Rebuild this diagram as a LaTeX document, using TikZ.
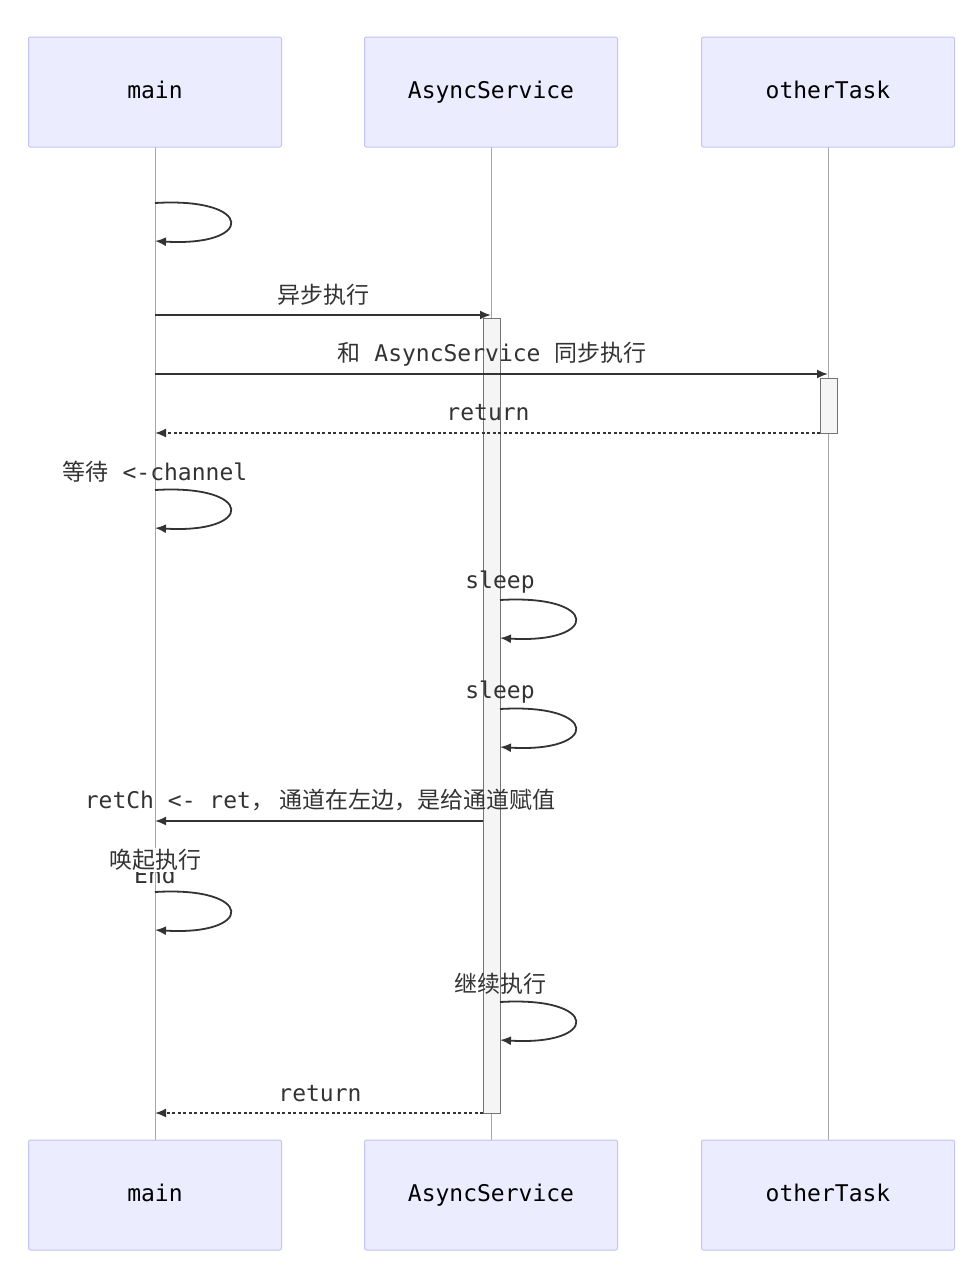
\documentclass[tikz,border=0pt]{standalone}
\usepackage{fontspec}
\setmainfont{DejaVu Sans Mono}
\newfontfamily\cjk{Noto Sans CJK SC}
\usetikzlibrary{arrows.meta}
\definecolor{actfill}{HTML}{ECECFF}
\definecolor{actdraw}{HTML}{C4C4F2}
\definecolor{ln}{HTML}{333333}
\tikzset{
 actor/.style={draw=actdraw,fill=actfill,rounded corners=2pt,minimum width=253pt,minimum height=110pt,font=\fontsize{23}{26}\selectfont,line width=1pt,text height=16pt,text depth=4pt},
 life/.style={draw=gray!70,line width=0.8pt},
 activ/.style={draw=gray!90!black,fill=gray!8,line width=0.9pt},
 msg/.style={draw=ln,line width=1.8pt,-{Latex[length=11pt,width=9pt]}},
 dmsg/.style={msg,dash pattern=on 3pt off 2.5pt},
 lbl/.style={font=\fontsize{23}{26}\selectfont,text=ln,inner sep=0pt},
}
\begin{document}
\begin{tikzpicture}[x=1pt,y=-1pt]
\useasboundingbox (0,0) rectangle (979,1280);
\foreach \n/\x/\t in {m/155/main,a/491/AsyncService,o/828/otherTask}{
 \draw[life] (\x,147) -- (\x,1140);
 \node[actor] (\n1) at (\x,92) {\t};
 \node[actor] (\n2) at (\x,1195) {\t};
}
\node[activ,minimum width=17pt,minimum height=795pt,inner sep=0pt,anchor=north] (actA) at (491.5,318) {};
\node[activ,minimum width=17pt,minimum height=55pt,inner sep=0pt,anchor=north] (actO) at (828.5,378) {};
\coordinate (m315) at (155,315); \coordinate (a315) at (491,315);
\draw[msg] (m315) -- (a315);
\node[lbl] at (323,295) {\cjk 异步执行};
\coordinate (m374) at (155,374); \coordinate (o374) at (828,374);
\draw[msg] (m374) -- (o374);
\node[lbl] at (492,354) {{\cjk 和} AsyncService {\cjk 同步执行}};
\coordinate (m433) at (155,433); \coordinate (o433) at (820,433);
\draw[dmsg] (o433) -- (m433);
\node[lbl] at (488,413) {return};
\coordinate (m821) at (155,821); \coordinate (a821) at (483,821);
\draw[msg] (a821) -- (m821);
\node[lbl] at (320,800) {retCh <- ret{\cjk ，  通道在左边，是给通道赋值}};
\coordinate (m1113) at (155,1113); \coordinate (a1113) at (483,1113);
\draw[dmsg] (a1113) -- (m1113);
\node[lbl] at (320,1094) {return};
\foreach \x/\y in {155/203,155/490,500/600,500/709,155/892,500/1002}{
 \draw[msg] (\x,\y) .. controls (\x+100,\y-6) and (\x+100,\y+44) .. (\x,\y+38);
}
\node[lbl] at (155,472) {{\cjk 等待} <-channel};
\node[lbl] at (500,582) {sleep};
\node[lbl] at (500,692) {sleep};
\node[lbl] at (155,875) {End};
\node[lbl,fill=white,inner sep=1pt] at (155,860) {\cjk 唤起执行};
\node[lbl] at (500,984) {\cjk 继续执行};
\end{tikzpicture}
\end{document}
